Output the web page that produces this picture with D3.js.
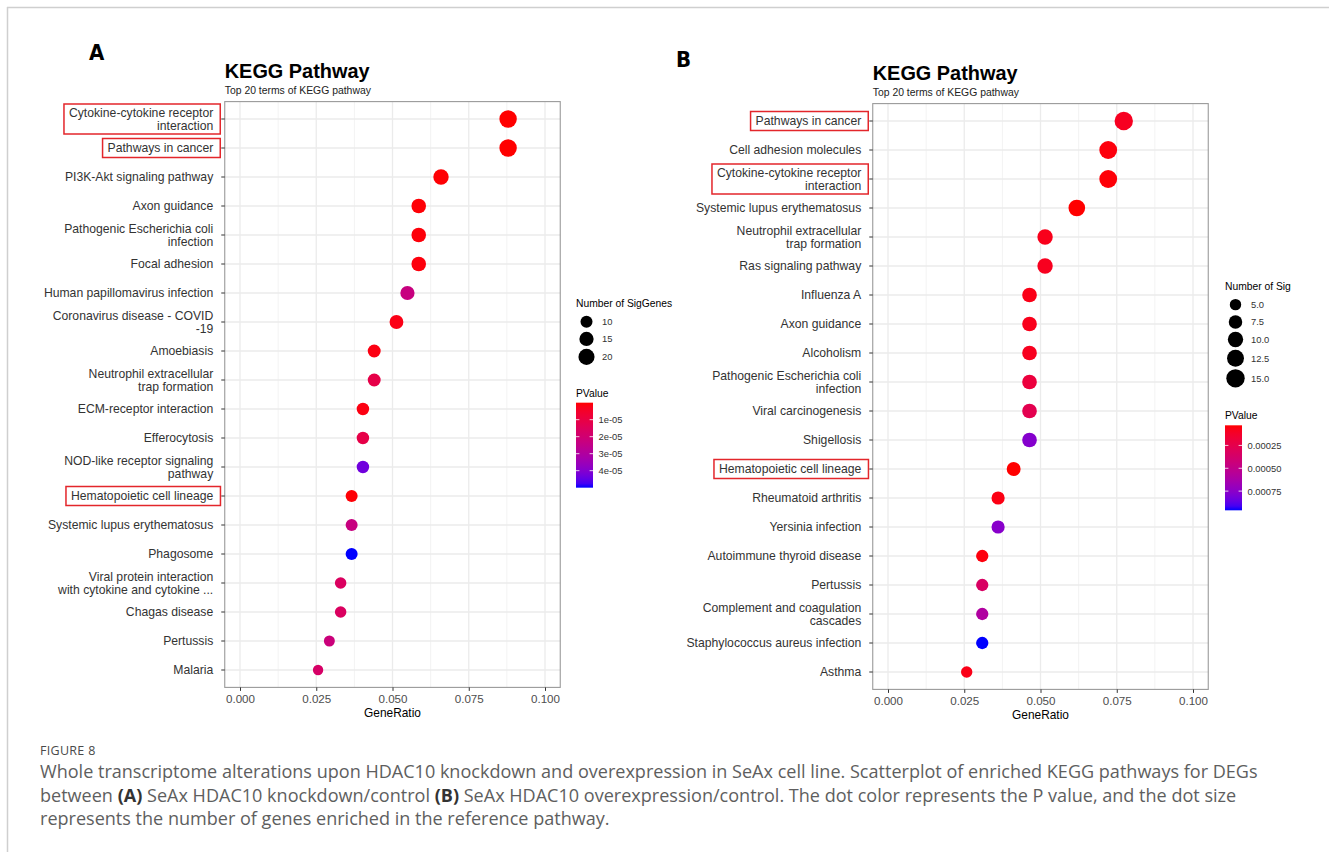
<!DOCTYPE html>
<html>
<head>
<meta charset="utf-8">
<title>KEGG Pathway</title>
<script src="https://cdn.jsdelivr.net/npm/d3@7"></script>
<style>
  body { margin: 0; background: #fff; }
  svg { display: block; font-family: "Liberation Sans", Arial, sans-serif; }
</style>
</head>
<body>
<svg id="fig" width="1329" height="852"></svg>
<script>
// ---- panel A: knockdown/control ----
const termsA = [
  "Cytokine-cytokine receptor\ninteraction", "Pathways in cancer", "PI3K-Akt signaling pathway",
  "Axon guidance", "Pathogenic Escherichia coli\ninfection", "Focal adhesion",
  "Human papillomavirus infection", "Coronavirus disease - COVID\n-19", "Amoebiasis",
  "Neutrophil extracellular\ntrap formation", "ECM-receptor interaction", "Efferocytosis",
  "NOD-like receptor signaling\npathway", "Hematopoietic cell lineage", "Systemic lupus erythematosus",
  "Phagosome", "Viral protein interaction\nwith cytokine and cytokine ...", "Chagas disease",
  "Pertussis", "Malaria"
];
const ratioA = [0.0879, 0.0879, 0.0659, 0.0586, 0.0586, 0.0586, 0.0549, 0.0513, 0.0440, 0.0440,
                0.0403, 0.0403, 0.0403, 0.0366, 0.0366, 0.0366, 0.0330, 0.0330, 0.0293, 0.0256];
const countA = [24, 24, 18, 16, 16, 16, 15, 14, 12, 12, 11, 11, 11, 10, 10, 10, 9, 9, 8, 7];
const pvalA  = [1e-9, 2e-9, 3e-7, 5e-7, 8e-7, 1e-6, 2.3e-5, 2e-6, 1.5e-6, 1.1e-5,
                1.5e-6, 1.1e-5, 4.3e-5, 5e-7, 2.3e-5, 5.0e-5, 1.6e-5, 1.6e-5, 2.2e-5, 1.75e-5];
const boxedA = ["Cytokine-cytokine receptor\ninteraction", "Pathways in cancer", "Hematopoietic cell lineage"];
const sizeTicksA = [10, 15, 20];
const sizeLabelsA = ["10", "15", "20"];
const pTicksA = [1e-5, 2e-5, 3e-5, 4e-5];
const pLabelsA = ["1e-05", "2e-05", "3e-05", "4e-05"];

// ---- panel B: overexpression/control ----
const termsB = [
  "Pathways in cancer", "Cell adhesion molecules", "Cytokine-cytokine receptor\ninteraction",
  "Systemic lupus erythematosus", "Neutrophil extracellular\ntrap formation", "Ras signaling pathway",
  "Influenza A", "Axon guidance", "Alcoholism", "Pathogenic Escherichia coli\ninfection",
  "Viral carcinogenesis", "Shigellosis", "Hematopoietic cell lineage", "Rheumatoid arthritis",
  "Yersinia infection", "Autoimmune thyroid disease", "Pertussis",
  "Complement and coagulation\ncascades", "Staphylococcus aureus infection", "Asthma"
];
const ratioB = [0.0773, 0.0722, 0.0722, 0.0619, 0.0515, 0.0515, 0.0464, 0.0464, 0.0464, 0.0464,
                0.0464, 0.0464, 0.0412, 0.0361, 0.0361, 0.0309, 0.0309, 0.0309, 0.0309, 0.0258];
const countB = [15, 14, 14, 12, 10, 10, 9, 9, 9, 9, 9, 9, 8, 7, 7, 6, 6, 6, 6, 5];
const pvalB  = [9.5e-5, 5e-5, 4e-5, 3e-5, 8e-5, 9e-5, 7e-5, 8e-5, 9e-5, 1.9e-4,
                2.6e-4, 7.7e-4, 3e-5, 6e-5, 7.6e-4, 5e-5, 3.4e-4, 5.9e-4, 9.6e-4, 7e-5];
const boxedB = ["Pathways in cancer", "Cytokine-cytokine receptor\ninteraction", "Hematopoietic cell lineage"];
const sizeTicksB = [5, 7.5, 10, 12.5, 15];
const sizeLabelsB = ["5.0", "7.5", "10.0", "12.5", "15.0"];
const pTicksB = [0.00025, 0.0005, 0.00075];
const pLabelsB = ["0.00025", "0.00050", "0.00075"];

const xTicks = [0, 0.025, 0.05, 0.075, 0.1];
const xTickLabels = ["0.000", "0.025", "0.050", "0.075", "0.100"];
const xMinor = [0.0125, 0.0375, 0.0625, 0.0875];

const svg = d3.select("#fig");

// page frame
svg.append("line").attr("x1", 7).attr("x2", 1329).attr("y1", 7.5).attr("y2", 7.5)
  .attr("stroke", "#cfcfcf").attr("stroke-width", 1.5);
svg.append("line").attr("x1", 7.5).attr("x2", 7.5).attr("y1", 7).attr("y2", 852)
  .attr("stroke", "#cfcfcf").attr("stroke-width", 1.5);

function drawPanel(g, o) {
  const x = d3.scaleLinear().domain([-0.005, 0.105]).range([o.left, o.right]);
  const y = d3.scalePoint().domain(o.terms).range([o.top, o.bottom]).padding(0.6);
  const r = d3.scaleSqrt().domain(o.sizeDomain).range(o.rRange);
  const pExt = d3.extent(o.pvals);
  const col = d3.scaleLinear().domain(pExt).range(["#ff0000", "#0000ff"]).interpolate(d3.interpolateLab);

  // panel letter + titles
  g.append("text").attr("x", o.letterX).attr("y", o.letterY).text(o.letter)
    .attr("font-family", "'DejaVu Sans Condensed', 'Liberation Sans Narrow', 'Liberation Sans', sans-serif")
    .attr("font-weight", "bold").attr("font-size", 22);
  g.append("text").attr("x", o.left).attr("y", o.titleY).text("KEGG Pathway")
    .attr("font-weight", "bold").attr("font-size", 19.9);
  g.append("text").attr("x", o.left).attr("y", o.titleY + 15.5).text("Top 20 terms of KEGG pathway")
    .attr("font-size", 10.4).attr("fill", "#222");

  // grid
  g.append("g").selectAll("line").data(xMinor).join("line")
    .attr("x1", d => x(d)).attr("x2", d => x(d)).attr("y1", o.top).attr("y2", o.bottom)
    .attr("stroke", "#f2f2f2").attr("stroke-width", 0.9);
  g.append("g").selectAll("line").data(xTicks).join("line")
    .attr("x1", d => x(d)).attr("x2", d => x(d)).attr("y1", o.top).attr("y2", o.bottom)
    .attr("stroke", "#ebebeb").attr("stroke-width", 1.3);
  g.append("g").selectAll("line").data(o.terms).join("line")
    .attr("x1", o.left).attr("x2", o.right).attr("y1", d => y(d)).attr("y2", d => y(d))
    .attr("stroke", "#ebebeb").attr("stroke-width", 1.3);

  // points
  g.append("g").selectAll("circle").data(o.terms).join("circle")
    .attr("cx", (d, i) => x(o.ratios[i]))
    .attr("cy", d => y(d))
    .attr("r", (d, i) => r(o.counts[i]))
    .attr("fill", (d, i) => col(o.pvals[i]));

  // border
  g.append("rect").attr("x", o.left).attr("y", o.top)
    .attr("width", o.right - o.left).attr("height", o.bottom - o.top)
    .attr("fill", "none").attr("stroke", "#9a9a9a").attr("stroke-width", 1.1);

  // x axis
  const xa = g.append("g").attr("transform", `translate(0,${o.bottom})`)
    .call(d3.axisBottom(x).tickValues(xTicks).tickSize(3.5).tickPadding(4)
      .tickFormat((d, i) => xTickLabels[i]));
  xa.select(".domain").remove();
  xa.selectAll(".tick line").attr("stroke", "#333");
  xa.selectAll(".tick text").attr("font-size", 11.6).attr("fill", "#4d4d4d")
    .attr("font-family", "'Liberation Sans', Arial, sans-serif");
  g.append("text").attr("x", (x(0) + x(0.1)) / 2).attr("y", o.bottom + 29.5)
    .attr("text-anchor", "middle").attr("font-size", 11.9).text("GeneRatio");

  // y axis
  g.append("g").selectAll("line").data(o.terms).join("line")
    .attr("x1", o.left - 3.5).attr("x2", o.left).attr("y1", d => y(d)).attr("y2", d => y(d))
    .attr("stroke", "#333");
  const labs = g.append("g").selectAll("text").data(o.terms).join("text")
    .attr("text-anchor", "end").attr("font-size", 12.2).attr("fill", "#333");
  labs.each(function (d) {
    const lines = d.split("\n");
    const t = d3.select(this);
    lines.forEach((ln, k) => {
      t.append("tspan").attr("x", o.left - 11.5)
        .attr("y", y(d) + 4.2 + (k - (lines.length - 1) / 2) * 13)
        .text(ln);
    });
  });
  labs.filter(d => o.boxed.includes(d)).each(function (d) {
    const bb = this.getBBox();
    const n = d.split("\n").length;
    const h = 11 * n + 8;
    g.append("rect").attr("x", bb.x - 5).attr("y", y(d) - h / 2)
      .attr("width", bb.width + 12).attr("height", h)
      .attr("fill", "none").attr("stroke", "#e3262b").attr("stroke-width", 1.5);
  });

  // size legend
  const lg = g.append("g");
  lg.append("text").attr("x", o.legX).attr("y", o.legTitleY).attr("font-size", 10.3)
    .text("Number of SigGenes");
  let cy = o.legTitleY + 6;
  o.sizeTicks.forEach((v, i) => {
    const rr = r(v);
    const h = Math.max(17.3, 2 * rr + 2.5);
    const c = cy + h / 2;
    lg.append("circle").attr("cx", o.legX + 10.5).attr("cy", c).attr("r", rr).attr("fill", "#000");
    lg.append("text").attr("x", o.legX + 26).attr("y", c + 3.4).attr("font-size", 9.4)
      .attr("fill", "#333").text(o.sizeLabels[i]);
    cy += h;
  });

  // colour bar
  const pTitleY = cy + 30.5;
  lg.append("text").attr("x", o.legX).attr("y", pTitleY).attr("font-size", 10.3).text("PValue");
  const barTop = pTitleY + 6, barH = 85, barW = 17;
  const gid = "grad" + o.letter;
  const grad = svg.append("defs").append("linearGradient").attr("id", gid)
    .attr("x1", 0).attr("x2", 0).attr("y1", 0).attr("y2", 1);
  d3.range(0, 1.0001, 0.05).forEach(t => {
    grad.append("stop").attr("offset", t).attr("stop-color", col(pExt[0] + t * (pExt[1] - pExt[0])));
  });
  lg.append("rect").attr("x", o.legX).attr("y", barTop).attr("width", barW).attr("height", barH)
    .attr("fill", `url(#${gid})`);
  const py = d3.scaleLinear().domain(pExt).range([barTop, barTop + barH]);
  o.pTicks.forEach((v, i) => {
    [[o.legX, o.legX + 3.4], [o.legX + barW - 3.4, o.legX + barW]].forEach(([a, b]) => {
      lg.append("line").attr("x1", a).attr("x2", b).attr("y1", py(v)).attr("y2", py(v))
        .attr("stroke", "#fff").attr("stroke-opacity", 0.8);
    });
    lg.append("text").attr("x", o.legX + barW + 5.5).attr("y", py(v) + 3.4)
      .attr("font-size", 9.4).attr("fill", "#333").text(o.pLabels[i]);
  });
}

drawPanel(svg.append("g"), {
  letter: "A", letterX: 89, letterY: 60, titleY: 78,
  left: 224.75, right: 560.25, top: 101.6, bottom: 687.4,
  terms: termsA, ratios: ratioA, counts: countA, pvals: pvalA, boxed: boxedA,
  sizeDomain: d3.extent(countA), rRange: [5.2, 8.7],
  sizeTicks: sizeTicksA, sizeLabels: sizeLabelsA, pTicks: pTicksA, pLabels: pLabelsA,
  legX: 576, legTitleY: 307
});

svg.append("defs").append("clipPath").attr("id", "clipB")
  .append("rect").attr("x", 640).attr("y", 0).attr("width", 651).attr("height", 740);
drawPanel(svg.append("g").attr("clip-path", "url(#clipB)"), {
  letter: "B", letterX: 676, letterY: 67, titleY: 80,
  left: 872.75, right: 1208.25, top: 103.6, bottom: 689.4,
  terms: termsB, ratios: ratioB, counts: countB, pvals: pvalB, boxed: boxedB,
  sizeDomain: d3.extent(countB), rRange: [5.7, 9.2],
  sizeTicks: sizeTicksB, sizeLabels: sizeLabelsB, pTicks: pTicksB, pLabels: pLabelsB,
  legX: 1225, legTitleY: 290
});

// caption
const capFont = "'Open Sans', 'Noto Sans', sans-serif";
svg.append("text").attr("x", 40).attr("y", 755).attr("font-family", capFont)
  .attr("font-size", 12.5).attr("fill", "#4a4a4a").attr("letter-spacing", 0.3).text("FIGURE 8");
const captionLines = [
  [["Whole transcriptome alterations upon HDAC10 knockdown and overexpression in SeAx cell line. Scatterplot of enriched KEGG pathways for DEGs", false]],
  [["between ", false], ["(A)", true], [" SeAx HDAC10 knockdown/control ", false], ["(B)", true],
   [" SeAx HDAC10 overexpression/control. The dot color represents the P value, and the dot size", false]],
  [["represents the number of genes enriched in the reference pathway.", false]]
];
const capG = svg.append("g").attr("font-family", capFont).attr("fill", "#5e5e5e");
const capTexts = captionLines.map((segs, i) => {
  const t = capG.append("text").attr("x", 40).attr("y", 778 + i * 23.5).attr("font-size", 16);
  segs.forEach(([s, b]) => {
    const ts = t.append("tspan").text(s);
    if (b) ts.attr("font-weight", "bold").attr("fill", "#333");
  });
  return t;
});
const w0 = capTexts[0].node().getComputedTextLength();
const fs = 16 * 1219 / w0;
capTexts.forEach(t => t.attr("font-size", fs));
</script>
</body>
</html>
